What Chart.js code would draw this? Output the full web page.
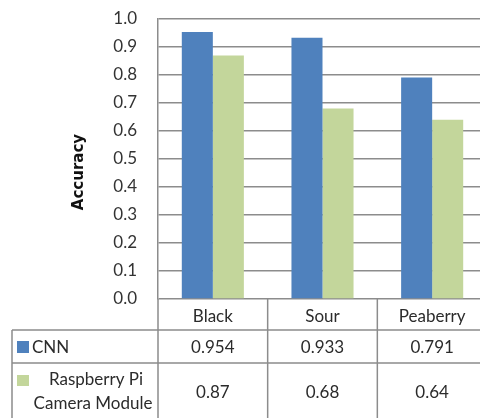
<!DOCTYPE html>
<html>
<head>
<meta charset="utf-8">
<script src="https://cdn.jsdelivr.net/npm/chart.js@4.4.1/dist/chart.umd.min.js"></script>
<style>
  html, body { margin: 0; padding: 0; background: #fff; overflow: hidden; }
  #wrap { width: 492px; height: 418px; overflow: hidden; }
</style>
</head>
<body>
<div id="wrap"><canvas id="c" width="492" height="418"></canvas></div>
<script>
// ---- data ----
const categories = ['Black', 'Sour', 'Peaberry'];
const cnnValues = [0.954, 0.933, 0.791];
const piValues = [0.87, 0.68, 0.64];
const cnnLabel = ['CNN'];
const piLabel = ['Raspberry Pi', 'Camera Module'];
const yTitle = 'Accuracy';
const yMin = 0, yMax = 1.0, yStep = 0.1;

const BLUE = '#4F81BD';
const GREEN = '#C3D69B';
const LINE = '#8c8c8c';
const TEXT = '#2b2b2b';
const FONT = 'Lato';

const tablePlugin = {
  id: 'dataTable',
  afterDraw(chart) {
    const ctx = chart.ctx;
    const ca = chart.chartArea;
    const xs = chart.scales.x;
    const H = chart.height;
    const n = categories.length;
    const centers = categories.map((_, i) => xs.getPixelForValue(i));
    const bounds = [ca.left];
    for (let i = 0; i < n - 1; i++) bounds.push((centers[i] + centers[i + 1]) / 2);
    bounds.push(ca.right);

    const rowTop1 = ca.bottom + 31;   // top of CNN row
    const rowTop2 = rowTop1 + 33;     // top of Pi row
    const leftX = 12;

    ctx.save();
    ctx.strokeStyle = LINE;
    ctx.lineWidth = 1.5;
    ctx.beginPath();
    bounds.forEach(b => {
      ctx.moveTo(b, ca.bottom);
      ctx.lineTo(b, H);
    });
    ctx.moveTo(leftX, rowTop1);
    ctx.lineTo(leftX, H);
    ctx.moveTo(leftX, rowTop1);
    ctx.lineTo(ca.right, rowTop1);
    ctx.moveTo(leftX, rowTop2);
    ctx.lineTo(ca.right, rowTop2);
    ctx.stroke();

    // legend keys
    ctx.fillStyle = BLUE;
    ctx.fillRect(17, rowTop1 + 11, 12, 12);
    ctx.fillStyle = GREEN;
    ctx.fillRect(17, rowTop2 + 12, 12, 11);

    ctx.fillStyle = TEXT;
    ctx.font = '17px ' + FONT;
    ctx.textBaseline = 'alphabetic';
    ctx.textAlign = 'left';
    ctx.fillText(cnnLabel[0], 32, rowTop1 + 23);
    ctx.textAlign = 'center';
    ctx.fillText(piLabel[0], 96, rowTop2 + 22);
    ctx.fillText(piLabel[1], 93, rowTop2 + 46);

    centers.forEach((cx, i) => {
      ctx.fillText(String(cnnValues[i]), cx, rowTop1 + 23);
      ctx.fillText(String(piValues[i]), cx, rowTop2 + 35);
    });

    // y-axis title
    ctx.save();
    ctx.translate(79, 172);
    ctx.rotate(-Math.PI / 2);
    ctx.font = 'bold 15px "DejaVu Sans"';
    ctx.fillStyle = '#111';
    ctx.textAlign = 'center';
    ctx.textBaseline = 'middle';
    ctx.fillText(yTitle, 0, 0);
    ctx.restore();

    ctx.restore();
  }
};

new Chart(document.getElementById('c'), {
  type: 'bar',
  data: {
    labels: categories,
    datasets: [
      { label: cnnLabel.join(' '), data: cnnValues, backgroundColor: BLUE, borderWidth: 0,
        categoryPercentage: 0.566, barPercentage: 1.0 },
      { label: piLabel.join(' '), data: piValues, backgroundColor: GREEN, borderWidth: 0,
        categoryPercentage: 0.566, barPercentage: 1.0 }
    ]
  },
  options: {
    responsive: false,
    animation: false,
    events: [],
    layout: { padding: { top: 19, right: 5, left: 0, bottom: 0 } },
    plugins: { legend: { display: false }, tooltip: { enabled: false }, title: { display: false } },
    scales: {
      y: {
        min: yMin, max: yMax,
        ticks: {
          stepSize: yStep,
          callback: v => Number(v).toFixed(1),
          font: { family: FONT, size: 17 },
          color: '#333333',
          padding: 21
        },
        grid: { color: LINE, lineWidth: 1.5, drawTicks: false, tickLength: 0 },
        border: { display: true, color: LINE, width: 1.5 },
        afterFit: s => { s.width = 158; s.paddingTop = 10; s.paddingBottom = 10; }
      },
      x: {
        ticks: { font: { family: FONT, size: 17 }, color: TEXT, padding: 7 },
        grid: { display: false, drawTicks: false, tickLength: 0 },
        border: { display: false },
        afterFit: s => { s.height = 119; }
      }
    }
  },
  plugins: [tablePlugin]
});
</script>
</body>
</html>
